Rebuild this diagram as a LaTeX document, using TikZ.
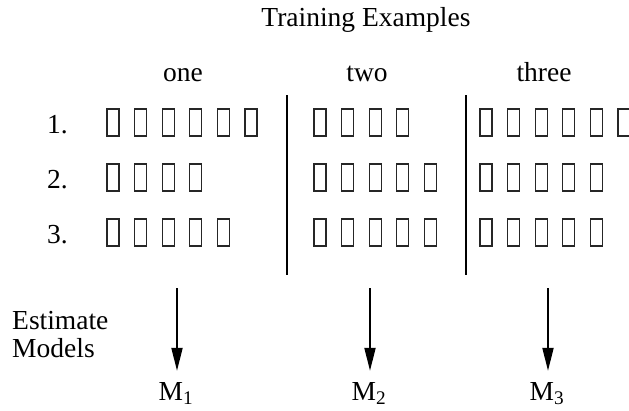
\documentclass[tikz,border=0pt]{standalone}
\usepackage{fontspec}
\setmainfont{Liberation Serif}
\usetikzlibrary{arrows.meta}
\def\boxrow(#1,#2)#3{\foreach \k in {1,...,#3} \draw[exbox] ({#1+(\k-1)*27.6},#2) rectangle ++(12,27);}

\begin{document}
\begin{tikzpicture}[x=1pt,y=-1pt,
		every node/.style={font=\fontsize{27.5}{32}\selectfont, inner sep=2pt},
		exbox/.style={line width=1.2pt, color=black!85},
		split/.style={line width=1.8pt},
		est/.style={line width=2pt, -{Triangle[length=23pt,width=11pt]}, shorten >=9pt}]
			%%%%% START %%%%%
			\useasboundingbox (0,0) rectangle (629,410);
			
			\node[anchor=base] (title) at (366,26) {Training Examples};
			
			\node[anchor=base] (one) at (183,81) {one};
			\node[anchor=base] (two) at (367,81) {two};
			\node[anchor=base] (three) at (544,81) {three};
			
			\node[anchor=base west] (r1) at (45,133) {1.};
			\node[anchor=base west] (r2) at (45,188) {2.};
			\node[anchor=base west] (r3) at (45,243) {3.};
			
			% example one
			\boxrow(107,109){6}
			\boxrow(107,164){4}
			\boxrow(107,219){5}
			
			% example two
			\boxrow(314,109){4}
			\boxrow(314,164){5}
			\boxrow(314,219){5}
			
			% example three
			\boxrow(480,109){6}
			\boxrow(480,164){5}
			\boxrow(480,219){5}
			
			\draw[split] (287,95) -- (287,275);
			\draw[split] (466,95) -- (466,275);
			
			\node[anchor=base west] (est) at (10,329) {Estimate};
			\node[anchor=base west] (mod) at (10,357) {Models};
			
			\node[anchor=base] (m1) at (176,400) {M\textsubscript{1}};
			\node[anchor=base] (m2) at (369,400) {M\textsubscript{2}};
			\node[anchor=base] (m3) at (547,400) {M\textsubscript{3}};
			
			\coordinate (s1) at (177,288);
			\coordinate (s2) at (370,288);
			\coordinate (s3) at (548,288);
			
			\draw[est] (s1) -- (s1 |- m1.north);
			\draw[est] (s2) -- (s2 |- m2.north);
			\draw[est] (s3) -- (s3 |- m3.north);
			
			%%%%% END %%%%%
		\end{tikzpicture}
\end{document}
